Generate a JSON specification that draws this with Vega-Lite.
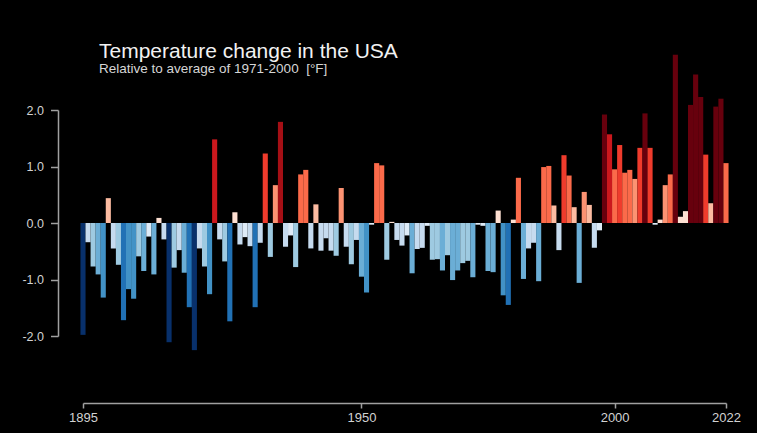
{
  "$schema": "https://vega.github.io/schema/vega-lite/v6.json",
  "width": 643,
  "height": 226,
  "autosize": {"type": "none"},
  "padding": {"left": 83, "top": 110, "right": 31, "bottom": 97},
  "background": "#000000",
  "config": {
    "view": {"stroke": null},
    "axis": {
      "grid": false,
      "domainColor": "#a0a0a0",
      "domainWidth": 1.5,
      "tickColor": "#a0a0a0",
      "tickWidth": 1.5,
      "labelColor": "#d2d2d2",
      "labelFont": "Liberation Sans",
      "labelFontSize": 12.5,
      "title": null
    }
  },
  "title": {
    "text": "Temperature change in the USA",
    "subtitle": "Relative to average of 1971-2000\u00a0 [°F]",
    "anchor": "start",
    "frame": "group",
    "dx": 16,
    "offset": -21,
    "font": "Liberation Sans",
    "fontSize": 21,
    "fontWeight": "normal",
    "color": "#f2f2f2",
    "subtitleFont": "Liberation Sans",
    "subtitleFontSize": 13.5,
    "subtitleColor": "#d6d6d6",
    "subtitlePadding": 0
  },
  "data": {
    "values": [
      {"year": 1895, "value": -1.98}, {"year": 1896, "value": -0.34}, {"year": 1897, "value": -0.77}, {"year": 1898, "value": -0.91},
      {"year": 1899, "value": -1.32}, {"year": 1900, "value": 0.44}, {"year": 1901, "value": -0.45}, {"year": 1902, "value": -0.74},
      {"year": 1903, "value": -1.72}, {"year": 1904, "value": -1.17}, {"year": 1905, "value": -1.34}, {"year": 1906, "value": -0.59},
      {"year": 1907, "value": -0.85}, {"year": 1908, "value": -0.24}, {"year": 1909, "value": -0.91}, {"year": 1910, "value": 0.09},
      {"year": 1911, "value": -0.29}, {"year": 1912, "value": -2.11}, {"year": 1913, "value": -0.79}, {"year": 1914, "value": -0.48},
      {"year": 1915, "value": -0.88}, {"year": 1916, "value": -1.49}, {"year": 1917, "value": -2.25}, {"year": 1918, "value": -0.45},
      {"year": 1919, "value": -0.77}, {"year": 1920, "value": -1.26}, {"year": 1921, "value": 1.48}, {"year": 1922, "value": -0.29},
      {"year": 1923, "value": -0.68}, {"year": 1924, "value": -1.74}, {"year": 1925, "value": 0.19}, {"year": 1926, "value": -0.38},
      {"year": 1927, "value": -0.25}, {"year": 1928, "value": -0.41}, {"year": 1929, "value": -1.49}, {"year": 1930, "value": -0.35},
      {"year": 1931, "value": 1.23}, {"year": 1932, "value": -0.6}, {"year": 1933, "value": 0.67}, {"year": 1934, "value": 1.79},
      {"year": 1935, "value": -0.42}, {"year": 1936, "value": -0.22}, {"year": 1937, "value": -0.78}, {"year": 1938, "value": 0.86},
      {"year": 1939, "value": 0.94}, {"year": 1940, "value": -0.45}, {"year": 1941, "value": 0.33}, {"year": 1942, "value": -0.49},
      {"year": 1943, "value": -0.27}, {"year": 1944, "value": -0.49}, {"year": 1945, "value": -0.58}, {"year": 1946, "value": 0.62},
      {"year": 1947, "value": -0.42}, {"year": 1948, "value": -0.73}, {"year": 1949, "value": -0.3}, {"year": 1950, "value": -0.95},
      {"year": 1951, "value": -1.23}, {"year": 1952, "value": -0.03}, {"year": 1953, "value": 1.06}, {"year": 1954, "value": 1.02},
      {"year": 1955, "value": -0.65}, {"year": 1956, "value": 0.02}, {"year": 1957, "value": -0.3}, {"year": 1958, "value": -0.4},
      {"year": 1959, "value": -0.22}, {"year": 1960, "value": -0.89}, {"year": 1961, "value": -0.46}, {"year": 1962, "value": -0.44},
      {"year": 1963, "value": -0.05}, {"year": 1964, "value": -0.65}, {"year": 1965, "value": -0.64}, {"year": 1966, "value": -0.84},
      {"year": 1967, "value": -0.57}, {"year": 1968, "value": -1.01}, {"year": 1969, "value": -0.84}, {"year": 1970, "value": -0.71},
      {"year": 1971, "value": -0.67}, {"year": 1972, "value": -0.96}, {"year": 1973, "value": -0.03}, {"year": 1974, "value": -0.05},
      {"year": 1975, "value": -0.85}, {"year": 1976, "value": -0.87}, {"year": 1977, "value": 0.22}, {"year": 1978, "value": -1.28},
      {"year": 1979, "value": -1.45}, {"year": 1980, "value": 0.06}, {"year": 1981, "value": 0.8}, {"year": 1982, "value": -0.99},
      {"year": 1983, "value": -0.45}, {"year": 1984, "value": -0.35}, {"year": 1985, "value": -1.03}, {"year": 1986, "value": 0.99},
      {"year": 1987, "value": 1.01}, {"year": 1988, "value": 0.31}, {"year": 1989, "value": -0.48}, {"year": 1990, "value": 1.2},
      {"year": 1991, "value": 0.84}, {"year": 1992, "value": 0.28}, {"year": 1993, "value": -1.06}, {"year": 1994, "value": 0.55},
      {"year": 1995, "value": 0.32}, {"year": 1996, "value": -0.44}, {"year": 1997, "value": -0.13}, {"year": 1998, "value": 1.92},
      {"year": 1999, "value": 1.57}, {"year": 2000, "value": 0.95}, {"year": 2001, "value": 1.38}, {"year": 2002, "value": 0.89},
      {"year": 2003, "value": 0.94}, {"year": 2004, "value": 0.78}, {"year": 2005, "value": 1.33}, {"year": 2006, "value": 1.94},
      {"year": 2007, "value": 1.33}, {"year": 2008, "value": -0.03}, {"year": 2009, "value": 0.06}, {"year": 2010, "value": 0.67},
      {"year": 2011, "value": 0.86}, {"year": 2012, "value": 2.98}, {"year": 2013, "value": 0.11}, {"year": 2014, "value": 0.21},
      {"year": 2015, "value": 2.09}, {"year": 2016, "value": 2.63}, {"year": 2017, "value": 2.23}, {"year": 2018, "value": 1.21},
      {"year": 2019, "value": 0.35}, {"year": 2020, "value": 2.06}, {"year": 2021, "value": 2.2}, {"year": 2022, "value": 1.06}
    ]
  },
  "mark": {"type": "bar", "orient": "vertical", "width": 5.1},
  "encoding": {
    "x": {
      "field": "year",
      "type": "quantitative",
      "scale": {"domain": [1895, 2022], "nice": false, "zero": false, "padding": 0},
      "axis": {"values": [1895, 1950, 2000, 2022], "format": "d", "offset": 67, "tickSize": 5, "labelPadding": 3, "labelFlush": false, "labelOverlap": false, "labelFontSize": 13}
    },
    "y": {
      "field": "value",
      "type": "quantitative",
      "scale": {"domain": [-2, 2], "nice": false, "zero": false, "padding": 0},
      "axis": {"values": [-2, -1, 0, 1, 2], "labelExpr": "replace(format(datum.value, '.1f'), '\u2212', '-')", "offset": 25, "tickSize": 7.5, "labelPadding": 7}
    },
    "y2": {"datum": 0},
    "color": {
      "field": "value",
      "type": "quantitative",
      "scale": {
        "type": "threshold",
        "domain": [-1.9, -1.75, -1.4, -1.15, -0.8, -0.55, -0.25, 0, 0.25, 0.55, 0.8, 1.15, 1.4, 1.75, 1.9],
        "range": ["#08306b", "#08519c", "#2171b5", "#4292c6", "#6baed6", "#9ecae1", "#c6dbef", "#deebf7", "#fee0d2", "#fcbba1", "#fc9272", "#fb6a4a", "#ef3b2c", "#cb181d", "#a50f15", "#67000d"]
      },
      "legend": null
    }
  }
}
